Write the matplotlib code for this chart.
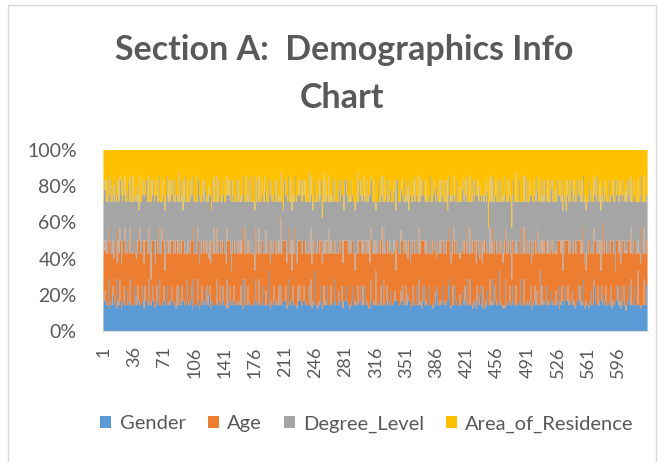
import numpy as np
import matplotlib.pyplot as plt
from matplotlib.patches import Rectangle, Patch

# survey codes per respondent (10 respondents per chunk)
gender = (
    "1121112111" "1211121112" "1111211121" "1211112111" "2111121121" "1112111211" "1121121111"
    "2111211112" "1111121211" "1211111211" "1121211112" "1111211121" "2112111111" "1211121121"
    "1112112111" "1211111112" "1121211211" "1111112111" "2111211121" "1121111211" "1112121111"
    "1211211112" "1111121211" "1121111121" "2111211111" "1211121112" "1112111211" "1121112111"
    "1211111121" "1111211211" "2112111112" "1111121111" "1211211121" "1121111211" "1111212111"
    "2111111121" "1121121112" "1211111211" "1112112111" "1121111112" "2111211211" "1111121121"
    "1211211111" "1121112112" "1111211211" "1212111121" "1111121111" "2112111211" "1121112111"
    "1111211112" "1211121211" "1121111121" "1112112111" "2111211211" "1121111112" "1211121111"
    "1111211221" "1121112111" "1211111211" "1112121112" "1121111211" "2111211121" "1111121122"
)
age = (
    "2222222322" "2212222222" "2222232222" "2222222212" "2232222222" "2222212222" "2222222232"
    "2122222222" "2222322222" "2222222122" "2223222222" "2222222222" "2212222232" "2222222222"
    "2222322212" "2222222222" "2322222222" "2222212222" "2222222232" "2212222222" "2222232222"
    "2222222212" "2232222222" "2222222222" "2222122232" "2222222222" "2322222122" "2222222222"
    "2222232222" "2122222222" "2222222322" "2222212222" "2232222222" "2222222212" "2222322222"
    "2212222222" "2222222232" "2222222222" "2322212222" "2222222222" "2222232222" "2212222222"
    "2222222322" "2222212222" "2322222222" "2222222212" "2222322222" "2212222222" "2222222232"
    "2222222222" "2232212222" "2222222222" "2222222322" "2122222222" "2222232222" "2222222212"
    "2322222222" "2222212222" "2222222232" "2212222222" "2222322222" "2222222212" "2232222222"
)
degree_level = (
    "2232222222" "2222213222" "2322222232" "2222322222" "2122222322" "2222232222" "3222222212"
    "2223222222" "2222222322" "2212232222" "2222222222" "2322222232" "2222312222" "2222222222"
    "2232222232" "2222222222" "2222132222" "2322222222" "2222222322" "2223222222" "2222222212"
    "2232222222" "2222322222" "2222222232" "2312222222" "2222232222" "2222222222" "2232222312"
    "2222222222" "2222322222" "2322222232" "2222212222" "2222222222" "2232222322" "2222222222"
    "2221232222" "2322222222" "2222222232" "2223222222" "2222222212" "2232222222" "2222232222"
    "2222222222" "2322222232" "2222312222" "2222222222" "2232222222" "2222222322" "2212222222"
    "2222232222" "2322222222" "2222222232" "2223222222" "2222212222" "2232222222" "2222222322"
    "2222322222" "2322222212" "2222222222" "2232222232" "2222322222" "2222222222" "2322222222"
)
area_of_residence = (
    "2121221212" "2212122121" "1221212221" "2122122212" "2212221221" "1221221212" "2122212221"
    "2221221212" "1212222121" "2221212212" "2122122221" "1222212122" "2212221212" "2122122221"
    "2221212212" "1222122122" "2212212221" "2122221212" "1221222122" "2212122212" "2122212221"
    "1222122122" "2212221212" "2121222212" "1222122221" "2213212122" "2122221212" "2221212221"
    "1212222122" "2222121212" "2122212221" "1221222212" "2212122122" "2122221221" "1222212212"
    "2212122221" "2122212122" "1221222212" "2212212221" "2122122122" "1222212212" "2212221221"
    "2122122212" "1221212222" "2212232121" "2122122212" "1222212221" "2232122122" "2122221212"
    "1221222212" "2212212221" "2122122122" "1222212212" "2212221221" "2122122212" "1221212222"
    "2212222121" "2122122212" "1222212221" "2212122122" "2122221212" "1221222212" "2212212222"
)

series = ["Gender", "Age", "Degree_Level", "Area_of_Residence"]
colors = ["#5B9BD5", "#ED7D31", "#A5A5A5", "#FFC000"]

n = min(len(gender), len(age), len(degree_level), len(area_of_residence))
vals = np.array([[int(c) for c in s[:n]] for s in (gender, age, degree_level, area_of_residence)], float)
pct = vals / vals.sum(axis=0) * 100
x = np.arange(1, n + 1)

plt.rcParams['font.family'] = ['Lato', 'DejaVu Sans']
txt = "#595959"

fig = plt.figure(figsize=(6.64, 4.62), dpi=100)
fig.patches.append(Rectangle((8 / 664, -0.01), 648 / 664, 1.0, transform=fig.transFigure,
                             fill=False, edgecolor="#D9D9D9", linewidth=1))
ax = fig.add_axes([103 / 664, 131 / 462, 545 / 664, 181 / 462])

# 100% stacked columns; columns are thinner than a pixel, so draw them as steps
ax.stackplot(x, pct, colors=colors, labels=series, step="mid", linewidth=0)

ax.set_xlim(0.5, n + 0.5)
ax.set_ylim(0, 100)
ax.set_yticks(range(0, 101, 20))
ax.set_yticklabels([f"{v}%" for v in range(0, 101, 20)], fontsize=14, color=txt)
xt = list(range(1, n + 1, 35))
ax.set_xticks(xt)
ax.set_xticklabels([str(v) for v in xt], rotation=90, fontsize=13, color=txt)
ax.tick_params(axis="y", length=0, pad=19)
ax.tick_params(axis="x", length=0, pad=11)
for s in ["top", "right", "left"]:
    ax.spines[s].set_visible(False)
ax.spines["bottom"].set_color("#D9D9D9")

fig.text(344 / 664, 1 - 50 / 462, "Section A:  Demographics Info", ha="center", va="center",
         fontsize=24.5, fontweight="bold", color=txt)
fig.text(342 / 664, 1 - 98 / 462, "Chart", ha="center", va="center",
         fontsize=24.5, fontweight="bold", color=txt)

handles = [Patch(facecolor=c, label=l) for c, l in zip(colors, series)]
fig.legend(handles=handles, loc="center", bbox_to_anchor=(367 / 664, 1 - 424 / 462), ncol=4,
           frameon=False, fontsize=14.5, handlelength=0.55, handleheight=0.55, handletextpad=0.4,
           columnspacing=1.1, labelcolor=txt)

fig.savefig("out.png", dpi=100)
